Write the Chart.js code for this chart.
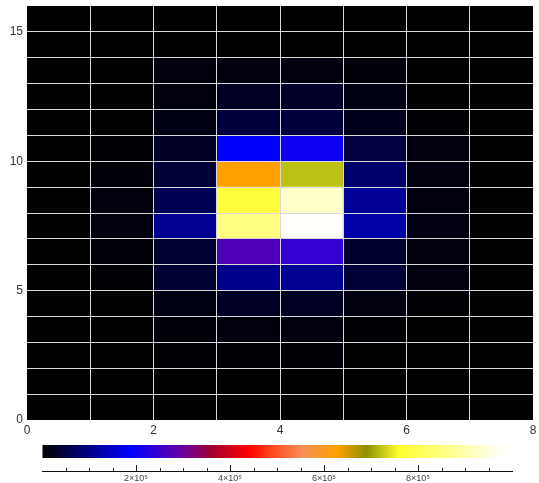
<!DOCTYPE html>
<html><head><meta charset="utf-8">
<script src="https://cdn.jsdelivr.net/npm/chart.js@4.4.1/dist/chart.umd.min.js"></script>
<style>
html,body{margin:0;padding:0;background:#fff;width:539px;height:483px;overflow:hidden;}
canvas{position:absolute;left:0;display:block;}
#main{top:0;}
#cbar{top:440px;}
</style></head><body>
<canvas id="main" width="539" height="440"></canvas>
<canvas id="cbar" width="539" height="43"></canvas>
<script>
// ---- data ----
const xBins = [0, 1, 2, 3, 4, 5, 6, 7];           // left edge of each column
const yBins = [0, 1, 2, 3, 4, 5, 6, 7, 8, 9, 10, 11, 12, 13, 14, 15]; // bottom edge of each row
const z_y00 = [0, 0, 0, 0, 0, 0, 0, 0];
const z_y01 = [0, 0, 0, 0, 0, 0, 0, 0];
const z_y02 = [0, 0, 4000, 5000, 5000, 0, 0, 0];
const z_y03 = [0, 0, 7000, 10000, 10000, 4000, 0, 0];
const z_y04 = [0, 0, 14000, 28000, 25000, 11000, 3000, 0];
const z_y05 = [0, 5000, 37000, 104000, 108000, 40000, 11000, 0];
const z_y06 = [0, 7000, 37000, 272000, 242000, 35000, 11000, 0];
const z_y07 = [0, 9000, 108000, 854000, 990000, 125000, 13000, 0];
const z_y08 = [0, 10000, 60000, 775000, 927000, 110000, 11000, 0];
const z_y09 = [0, 6000, 42000, 628000, 720000, 80000, 11000, 0];
const z_y10 = [0, 3000, 28000, 190000, 205000, 47000, 9000, 0];
const z_y11 = [0, 0, 14000, 45000, 45000, 20000, 3000, 0];
const z_y12 = [0, 0, 10000, 26000, 30000, 14000, 0, 0];
const z_y13 = [0, 0, 9000, 9000, 11000, 7000, 0, 0];
const z_y14 = [0, 0, 0, 0, 0, 0, 0, 0];
const z_y15 = [0, 0, 0, 0, 0, 0, 0, 0];
const zRows = [z_y00, z_y01, z_y02, z_y03, z_y04, z_y05, z_y06, z_y07,
               z_y08, z_y09, z_y10, z_y11, z_y12, z_y13, z_y14, z_y15];
const xTickLabels = [0, 2, 4, 6, 8];
const yTickLabels = [0, 5, 10, 15];
const cbarTickLabels = [200000, 400000, 600000, 800000];
const zMin = 0, zMax = 1000000;

// ---- colour map (style) ----
const cmapValues = [0, 190000, 300000, 360000, 440000, 490000, 555000, 628000, 690000, 760000, 870000, 975000, 1000000];
const cmapColors = ['#000000', '#0000ff', '#6a00a0', '#a00030', '#ff0000', '#ff4a1e', '#f5905a', '#ffa000', '#8c9100', '#ffff30', '#ffff90', '#fffff8', '#ffffff'];

function hexToRgb(h) {
  return [parseInt(h.slice(1, 3), 16), parseInt(h.slice(3, 5), 16), parseInt(h.slice(5, 7), 16)];
}
function colorFor(v) {
  if (v <= cmapValues[0]) return cmapColors[0];
  for (let i = 1; i < cmapValues.length; i++) {
    if (v <= cmapValues[i]) {
      const t = (v - cmapValues[i - 1]) / (cmapValues[i] - cmapValues[i - 1]);
      const a = hexToRgb(cmapColors[i - 1]), b = hexToRgb(cmapColors[i]);
      const c = a.map((av, k) => Math.round(av + (b[k] - av) * t));
      return `rgb(${c[0]},${c[1]},${c[2]})`;
    }
  }
  return cmapColors[cmapColors.length - 1];
}

Chart.defaults.font.family = '"Liberation Sans", Arial, "DejaVu Sans", sans-serif';
Chart.defaults.color = '#333';

const GRID = '#d9d9d9';

const datasets = yBins.map((yb, j) => ({
  data: xBins.map((xb) => ({ x: xb + 0.5, y: [yb, yb + 1] })),
  backgroundColor: xBins.map((xb, i) => colorFor(zRows[j][i])),
  borderWidth: 0,
  borderSkipped: false,
  barPercentage: 1,
  categoryPercentage: 1,
  grouped: false
}));

const blackArea = {
  id: 'blackArea',
  beforeDraw(chart) {
    const { ctx, chartArea: a } = chart;
    ctx.save();
    ctx.fillStyle = '#000';
    ctx.fillRect(a.left, a.top, a.right - a.left, a.bottom - a.top);
    ctx.restore();
  }
};

new Chart(document.getElementById('main'), {
  type: 'bar',
  data: { datasets },
  plugins: [blackArea],
  options: {
    responsive: false,
    animation: false,
    layout: { padding: { left: 0, right: 6, top: 6, bottom: 0 } },
    plugins: { legend: { display: false }, tooltip: { enabled: false } },
    scales: {
      x: {
        type: 'linear', min: 0, max: 8, offset: false,
        grid: { offset: false, z: 1, drawTicks: false, lineWidth: 1,
          color: (c) => (c.tick && (c.tick.value === 0 || c.tick.value === 8)) ? 'rgba(0,0,0,0)' : GRID },
        border: { display: false },
        ticks: { stepSize: 1, autoSkip: false, maxRotation: 0, padding: 3,
          font: { size: 12 }, color: '#333',
          callback: (v) => xTickLabels.includes(v) ? String(v) : '' },
        afterFit: (s) => { s.height = 20; s.paddingLeft = 0; s.paddingRight = 0; }
      },
      y: {
        type: 'linear', min: 0, max: 16,
        grid: { z: 1, drawTicks: false, lineWidth: 1,
          color: (c) => (c.tick && (c.tick.value === 0 || c.tick.value === 16)) ? 'rgba(0,0,0,0)' : GRID },
        border: { display: false },
        ticks: { stepSize: 1, autoSkip: false, padding: 4,
          font: { size: 12 }, color: '#333',
          callback: (v) => yTickLabels.includes(v) ? String(v) : '' },
        afterFit: (s) => { s.width = 27; s.paddingTop = 0; s.paddingBottom = 0; }
      }
    }
  }
});

// ---- colour bar ----
const cbarTicks = {
  id: 'cbarTicks',
  afterDatasetsDraw(chart) {
    const { ctx, chartArea: a } = chart;
    const xs = chart.scales.x;
    ctx.save();
    ctx.strokeStyle = '#222';
    ctx.lineWidth = 1;
    xs.ticks.forEach((t) => {
      if (t.value <= zMin || t.value >= zMax) return;
      const px = Math.round(xs.getPixelForValue(t.value)) + 0.5;
      const len = cbarTickLabels.includes(t.value) ? 6 : 3;
      ctx.beginPath();
      ctx.moveTo(px, a.bottom);
      ctx.lineTo(px, a.bottom - len);
      ctx.stroke();
    });
    ctx.restore();
  }
};

new Chart(document.getElementById('cbar'), {
  type: 'bar',
  data: {
    labels: ['z'],
    datasets: [{
      data: [[zMin, zMax]],
      backgroundColor: (c) => {
        const chart = c.chart;
        if (!chart.chartArea) return '#000';
        const xs = chart.scales.x;
        const g = chart.ctx.createLinearGradient(xs.getPixelForValue(zMin), 0, xs.getPixelForValue(zMax), 0);
        cmapValues.forEach((v, i) => g.addColorStop((v - zMin) / (zMax - zMin), cmapColors[i]));
        return g;
      },
      borderWidth: 0,
      borderSkipped: false,
      inflateAmount: 0,
      barPercentage: 1,
      categoryPercentage: 1
    }]
  },
  plugins: [cbarTicks],
  options: {
    indexAxis: 'y',
    responsive: false,
    animation: false,
    layout: { padding: { left: 42, right: 27, top: 5, bottom: 0 } },
    plugins: { legend: { display: false }, tooltip: { enabled: false } },
    scales: {
      x: {
        type: 'linear', min: zMin, max: zMax,
        grid: { drawOnChartArea: false, drawTicks: false },
        border: { display: true, color: '#111', width: 1, z: 1 },
        ticks: { stepSize: 50000, autoSkip: false, maxRotation: 0, padding: 2,
          font: { size: 9 }, color: '#444',
          callback: (v) => cbarTickLabels.includes(v) ? (v / 100000) + '×10⁵' : '' },
        afterFit: (s) => { s.height = 12; s.paddingLeft = 0; s.paddingRight = 0; }
      },
      y: { display: false, offset: false, grid: { offset: false } }
    }
  }
});
</script>
</body></html>
